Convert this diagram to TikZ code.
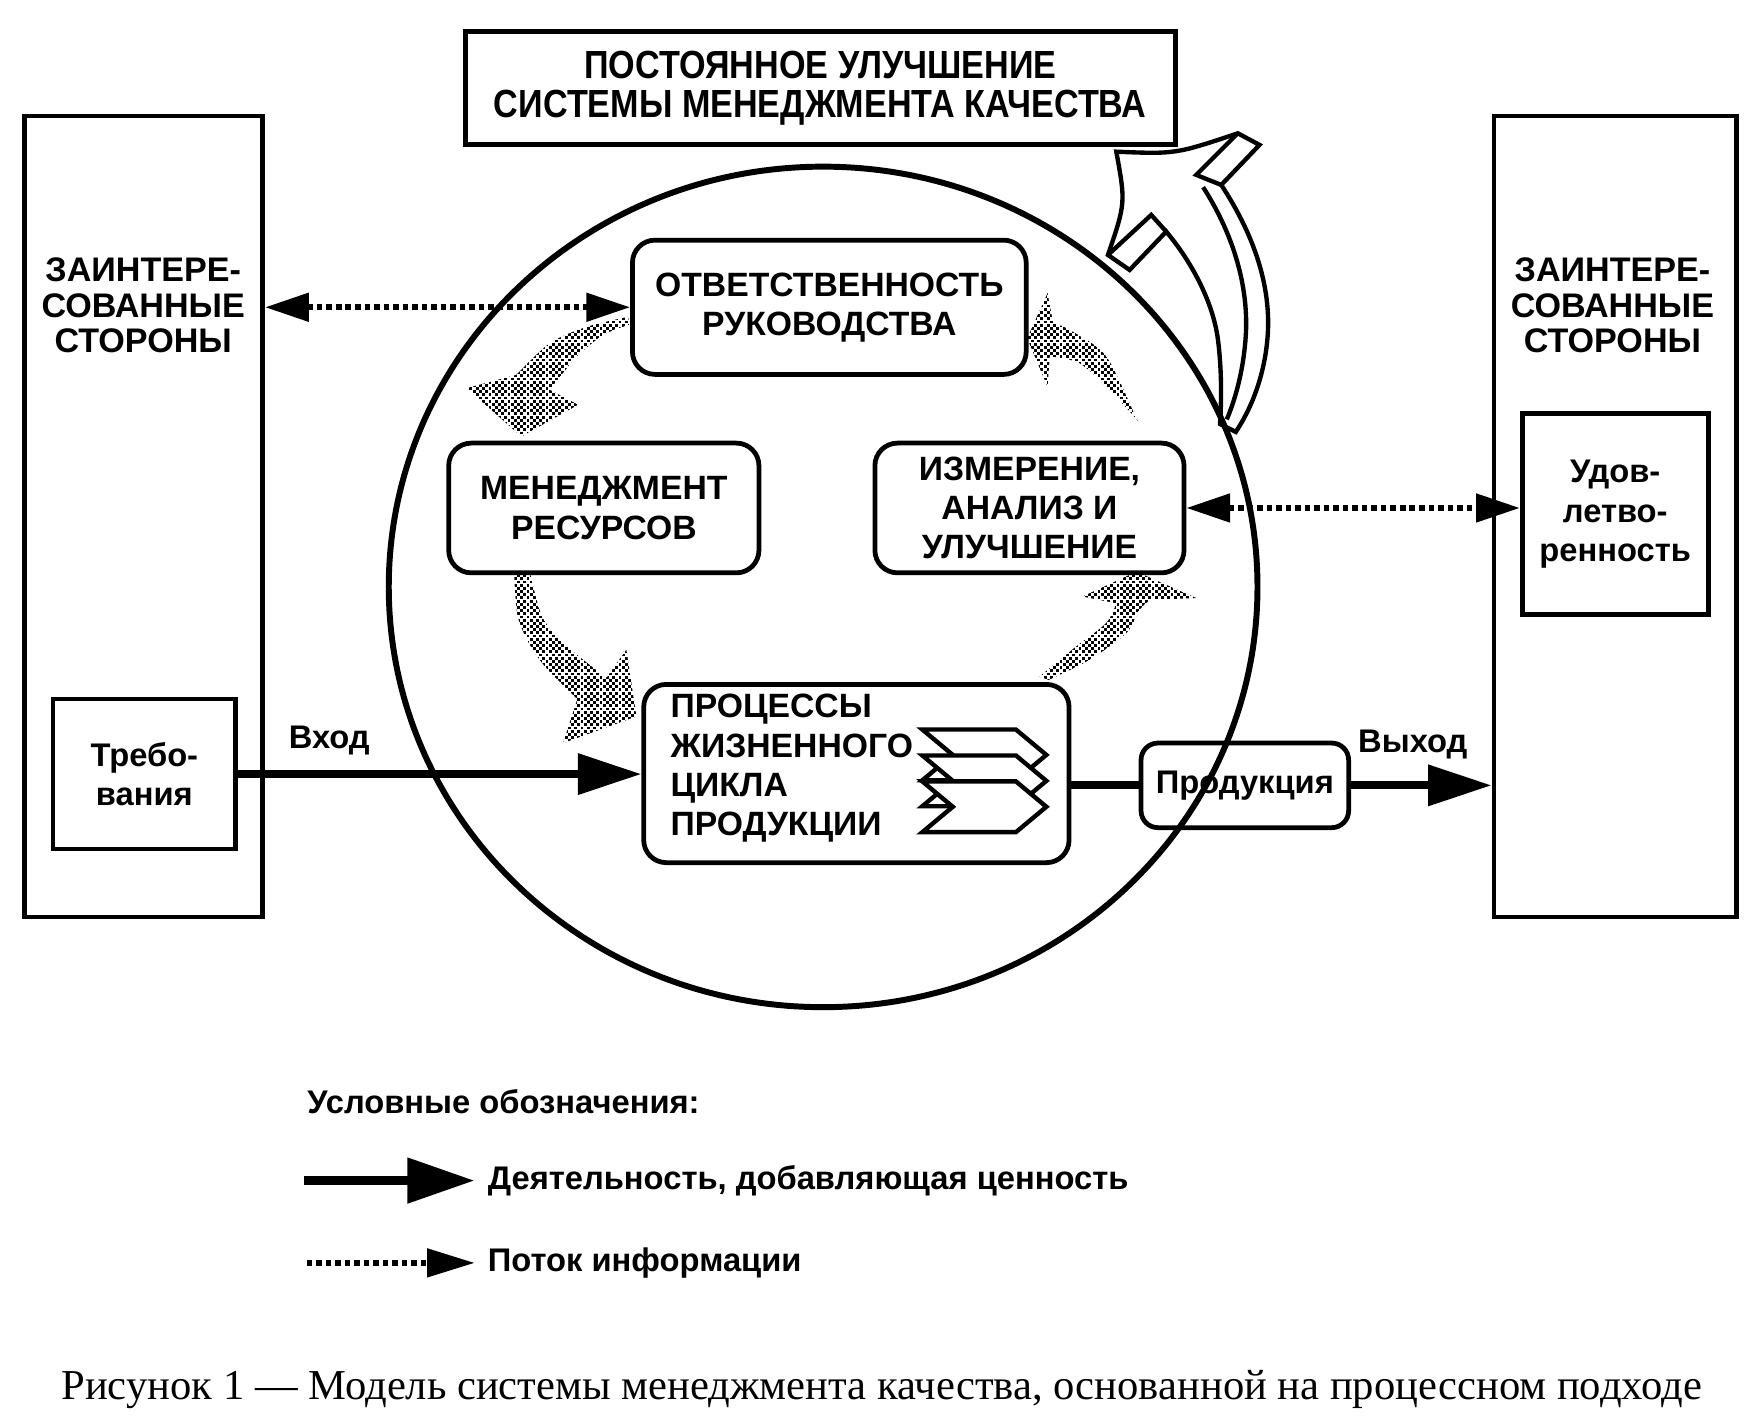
\documentclass[tikz,border=0pt]{standalone}
\usepackage{fontspec}
\setmainfont{Liberation Serif}
\newfontfamily\sansfam{Liberation Sans}
\newfontfamily\titlefam{Liberation Sans}[FakeStretch=0.87]
\usetikzlibrary{arrows.meta,patterns.meta}
\tikzdeclarepattern{
  name=finedots,
  type=uncolored,
  bounding box={(-0.1pt,-0.1pt) and (1.7pt,1.7pt)},
  tile size={(1.6pt,1.6pt)},
  code={
    \fill (0pt,0pt) rectangle (0.72pt,0.72pt);
    \fill (0.8pt,0.8pt) rectangle (1.52pt,1.52pt);
  }
}
\newcommand\labfont{\sansfam\bfseries\fontsize{8.5}{9.9}\selectfont}
\newcommand\lowfont{\sansfam\bfseries\fontsize{8.25}{9.9}\selectfont}
\newcommand\sidefont{\sansfam\bfseries\fontsize{8.6}{9.0}\selectfont}
\newcommand\titlefont{\titlefam\bfseries\fontsize{9.9}{9.9}\selectfont}
\begin{document}
\begin{tikzpicture}[x=0.01cm, y=-0.01cm,
  sbox/.style={draw, line width=1.2pt, inner sep=0pt, align=center, font=\labfont},
  rbox/.style={draw, line width=1.2pt, rounded corners=0.2cm, inner sep=0pt, align=center, font=\labfont},
  lbl/.style={inner sep=0pt, align=center, font=\labfont},
  low/.style={inner sep=0pt, align=center, font=\lowfont},
  flow/.style={line width=2pt, arrows={-Triangle[length=16pt,width=10pt]}},
  plainflow/.style={line width=2pt},
  info/.style={line width=1.4pt, dash pattern=on 1.4pt off 1pt, arrows={Triangle[length=11pt,width=7pt]-Triangle[length=11pt,width=7pt]}},
  shadearrow/.style={pattern=finedots, pattern color=black},
  outline/.style={line width=1.1pt, line join=miter}
]
\fill[white] (0,0) rectangle (1560,1263);
\useasboundingbox (0,0) rectangle (1560,1263);

% side boxes
\node[sbox, minimum width=2.11cm, minimum height=7.10cm] (lside) at (127.5,458) {};
\node[lbl, font=\sidefont] (ltext) at (127,271) {ЗАИНТЕРЕ-\\СОВАННЫЕ\\СТОРОНЫ};
\node[sbox, font=\lowfont, minimum width=1.62cm, minimum height=1.33cm] (req) at (128,686.5) {Требо-\\вания};
\node[sbox, minimum width=2.15cm, minimum height=7.10cm] (rside) at (1432.5,458) {};
\node[lbl, font=\sidefont] (rtext) at (1430,271) {ЗАИНТЕРЕ-\\СОВАННЫЕ\\СТОРОНЫ};
\node[sbox, font=\lowfont, minimum width=1.65cm, minimum height=1.78cm] (sat) at (1432.5,456) {Удов-\\летво-\\ренность};

% title
\node[sbox, font=\titlefont, minimum width=6.29cm, minimum height=1.0cm] (title) at (727.5,78) {ПОСТОЯННОЕ УЛУЧШЕНИЕ\\СИСТЕМЫ МЕНЕДЖМЕНТА КАЧЕСТВА};

% big hollow arrow
\filldraw[outline, fill=white] (990,134.5) .. controls (1042.5,136.7) .. (1097.8,118.2) -- (1117,128.5) -- (1083.1,164)
  .. controls (1110,205) and (1127,250) .. (1124.4,295.5)
  .. controls (1122,335) and (1108,365) .. (1096,383) -- (1082,376)
  .. controls (1083,360) and (1084,330) .. (1080,300)
  .. controls (1075,265) and (1055,230) .. (1034.3,205.4)
  -- (1001.8,239.4) -- (982.6,226.1) .. controls (998.3,180) .. (990,134.5) -- cycle;
\draw[outline] (1097.8,118.2) -- (1060.9,155.1) -- (1083.1,164);
\draw[outline] (982.6,226.1) -- (1021,190.6) -- (1034.3,205.4);
\draw[outline] (1067,166) .. controls (1092,205) and (1107,250) .. (1105,295) .. controls (1103,330) and (1095,355) .. (1088,372);

% circle
\draw[line width=1.5pt] (730,520.5) ellipse [x radius=3.85cm, y radius=3.725cm];

% shaded cycle arrows
\fill[shadearrow] plot[smooth] coordinates {(557,281) (520,290) (487.6,304.4) (458,332.4)} -- (413.7,344.3) -- (462.5,387.1) -- (512.7,359) -- plot[smooth] coordinates {(487.6,345.7) (500,330) (511.2,316.2) (535,297) (558,288)} -- cycle;
\fill[shadearrow] plot[smooth] coordinates {(456,508) (459,546) (470,572) (485,593) (512,620)} -- (499.4,659) -- (564.4,635.4) -- (555.5,576.2) -- plot[smooth] coordinates {(538,601) (517,585) (495,566) (480,545) (470,508)} -- cycle;
\fill[shadearrow] plot[smooth] coordinates {(922,600) (954.5,573.3) (981,552.6) (990,535)} -- (960,529) -- (1008,507) -- (1061,530.4) -- plot[smooth] coordinates {(1020,532) (1010.6,540.8) (998.8,561.5) (966.3,585.1) (930,603)} -- cycle;
\fill[shadearrow] plot[smooth] coordinates {(1008,372) (981,316) (948.6,292.6) (934,286.6)} -- (929,260) -- (911,300) -- (929,343) -- plot[smooth] coordinates {(931,316) (957.4,322.1) (984,345.7) (1010,374)} -- cycle;

% inner boxes
\node[rbox, minimum width=3.49cm, minimum height=1.19cm] (resp) at (735.5,272.5) {ОТВЕТСТВЕННОСТЬ\\РУКОВОДСТВА};
\node[rbox, minimum width=2.75cm, minimum height=1.15cm] (res) at (535.5,450.5) {МЕНЕДЖМЕНТ\\РЕСУРСОВ};
\node[rbox, minimum width=2.74cm, minimum height=1.15cm] (meas) at (913,450.5) {ИЗМЕРЕНИЕ,\\АНАЛИЗ И\\УЛУЧШЕНИЕ};
\node[rbox, minimum width=3.77cm, minimum height=1.58cm] (proc) at (759.5,686) {};
\node[lbl, align=left, anchor=west] (proctext) at (594,681.5) {ПРОЦЕССЫ\\ЖИЗНЕННОГО\\ЦИКЛА\\ПРОДУКЦИИ};
\foreach \dy in {0,23,46}{
  \filldraw[outline, fill=white] (818,{647+\dy}) -- (901,{647+\dy}) -- (928,{669.5+\dy}) -- (901,{692+\dy}) -- (818,{692+\dy}) -- (845,{669.5+\dy}) -- cycle;
}
\node[rbox, font=\lowfont, minimum width=1.84cm, minimum height=0.75cm, rounded corners=0.15cm] (prod) at (1104,696.5) {Продукция};

% connectors
\draw[flow] (req.east) -- (req.east -| proc.west);
\draw[plainflow] (prod.west -| proc.east) -- (prod.west);
\draw[flow] (prod.east) -- (prod.east -| rside.west);
\draw[info] (lside.east |- resp.west) -- (resp.west);
\draw[info] (meas.east) -- (meas.east -| sat.west);
\node[low] (vhod) at (292,657) {Вход};
\node[low] (vyhod) at (1253,660) {Выход};

% legend
\node[low, anchor=west] (legtitle) at (272,977) {Условные обозначения:};
\coordinate (la1) at (270,1047);
\coordinate (la2) at (421,1047);
\draw[line width=2.4pt, arrows={-Triangle[length=17pt,width=11pt]}] (la1) -- (la2);
\node[low, anchor=west] (leg1) at (432,1047) {Деятельность, добавляющая ценность};
\coordinate (lb1) at (272,1120);
\coordinate (lb2) at (421,1120);
\draw[line width=1.4pt, dash pattern=on 1.4pt off 1pt, arrows={-Triangle[length=12pt,width=7pt]}] (lb1) -- (lb2);
\node[low, anchor=west] (leg2) at (432,1120) {Поток информации};

% caption
\node[inner sep=0pt, font=\fontsize{10.75}{13}\selectfont] (caption) at (782,1232) {Рисунок 1 — Модель системы менеджмента качества, основанной на процессном подходе};
\end{tikzpicture}
\end{document}
